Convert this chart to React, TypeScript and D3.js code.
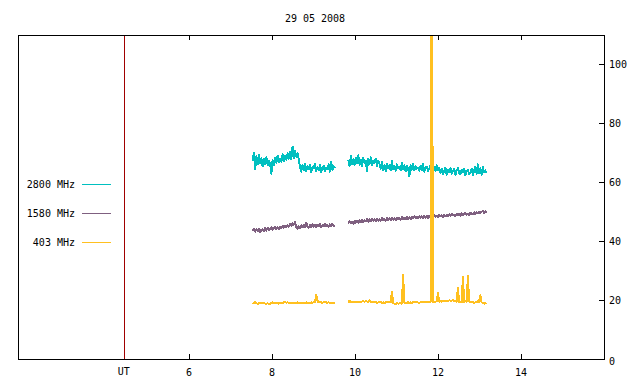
import React from "react";
import * as d3 from "d3";

const title = "29 05 2008";
const xTicks = [6, 8, 10, 12, 14];
const yTicks = [0, 20, 40, 60, 80, 100];
const markerTime = 4.43;
const markerLabel = "UT";
const legendLabels = ["2800 MHz", "1580 MHz", "403 MHz"];
const colors = ["#00c0c0", "#7f6080", "#ffc020"];

const seg1Start = 7.535;
const seg2Start = 9.84;
const step = 0.03;

const cyan1 = [
  67.2, 70.1, 64.3, 68.8, 66.1, 69.4,
  66.5, 68.2, 65.4, 67.9, 66.0, 68.6, 65.8, 67.3, 66.2, 62.8,
  67.5, 65.9, 68.4, 66.6, 69.0, 66.8, 68.1, 67.0, 69.5, 67.2, 68.9, 67.6, 69.8,
  68.0, 70.2, 67.9, 72.1, 68.3, 70.6, 68.7, 69.9, 67.8,
  65.3, 63.6, 65.9, 64.1, 66.2, 63.8, 65.5, 64.4, 66.0, 63.5, 65.1, 64.7, 66.3, 63.9, 65.2, 64.0, 65.8, 63.4, 64.9, 65.6, 63.7, 65.0, 64.5, 66.1, 63.6, 66.9, 64.2, 65.4, 64.8,
];
const cyan2 = [
  67.5, 65.6, 68.9, 66.2, 67.8, 65.9, 68.4, 66.5, 69.1, 66.0, 67.6, 65.4, 68.2, 66.7, 67.3, 63.9, 67.9, 66.1, 68.5, 65.8, 67.2, 66.4, 68.0, 65.5, 67.4, 66.3,
  64.6, 66.9, 64.2, 65.9, 63.8, 66.4, 64.9, 65.7, 64.0, 67.2, 64.5, 65.6, 63.9, 66.1, 64.8, 65.3, 64.1, 66.6, 64.4, 65.8, 63.7, 65.5, 64.7, 62.1, 65.9, 64.3, 66.2, 64.0, 65.4, 64.6, 65.0,
  63.9, 65.6, 64.2, 66.1, 63.6, 64.9, 65.3, 63.8, 64.7, 65.9, 63.5, 64.4, 65.2, 63.9, 65.7, 64.1, 64.8,
  63.2, 64.6, 62.8, 63.9, 65.0, 62.6, 64.2, 63.4, 64.8, 62.9, 63.7, 64.5, 62.5, 63.9, 64.9, 63.1, 62.7, 64.3, 63.5, 64.7, 62.4, 63.6, 64.1, 62.8, 63.3, 64.6, 62.5, 63.8, 65.3, 62.9, 66.1, 63.2, 64.8, 62.6, 65.2, 63.4, 64.0, 63.1,
];
const purple1 = [
  43.5, 44.2, 43.2, 44.0, 43.4, 44.3, 43.1, 43.9, 44.1, 43.3,
  44.4, 43.6, 44.6, 43.8, 44.3, 44.7, 43.8, 44.5, 44.9, 44.0,
  44.7, 44.2, 45.0, 44.4, 45.2, 44.6, 45.3, 44.7, 45.5, 44.9,
  45.7, 45.2, 46.2, 45.6, 46.6, 44.8, 44.3, 45.1, 44.5, 45.4,
  44.7, 45.6, 44.8, 46.3, 45.0, 44.6, 45.5, 44.8, 45.7, 44.9,
  45.4, 44.7, 45.6, 45.0, 45.8, 44.9, 45.5, 45.1, 45.9, 45.0,
  45.6, 44.9, 45.7, 45.2, 45.9, 45.1, 45.5,
];
const purple2 = [
  46.0, 46.8, 46.1, 46.7, 45.9, 46.9, 46.3, 47.0, 46.2, 47.1,
  46.5, 47.3, 46.4, 47.2, 46.7, 47.5, 46.6, 47.4, 46.8, 47.6,
  46.9, 47.4, 46.8, 47.7, 47.0, 47.5, 46.9, 47.8, 47.1, 47.6,
  47.0, 47.9, 47.2, 47.7, 47.1, 48.0, 47.3, 47.8, 47.2, 47.9,
  47.4, 48.0, 47.3, 48.2, 47.5, 48.0, 47.4, 48.3, 47.6, 48.1,
  47.5, 48.2, 47.7, 48.4, 47.8, 48.3, 47.7, 48.5, 47.9, 48.4,
  47.8, 48.6, 48.0, 48.5, 47.9, 48.7, 48.1, 48.6, 48.0, 48.8,
  48.2, 48.7, 48.3, 48.9, 48.4, 48.8, 48.3, 49.0, 48.5, 48.9,
  48.4, 49.1, 48.6, 49.2, 48.7, 49.0, 48.5, 49.3, 48.8, 49.2,
  48.7, 49.4, 48.9, 49.3, 49.6, 49.0, 49.4, 48.9, 49.7, 49.1,
  49.3, 49.8, 49.2, 49.9, 49.4, 50.1, 49.5, 50.0, 50.3, 49.6,
  50.2, 49.7,
];
const orange1 = [
  19.2, 18.9, 19.3, 19.0, 18.6, 19.1, 19.2, 18.9, 19.1, 19.0,
  18.8, 18.7, 18.9, 18.7, 18.8, 19.0, 19.2, 19.0, 19.1, 18.9,
  19.0, 18.8, 19.1, 19.0, 18.9, 19.2, 19.3, 19.1, 19.3, 19.0,
  18.9, 19.1, 19.0, 18.9, 19.1, 19.0, 19.2, 19.0, 18.9, 19.1,
  19.0, 19.1, 19.0, 19.2, 18.9, 19.0, 19.1, 19.2, 19.1, 19.3,
  19.2, 21.7, 19.8, 19.2, 19.3, 19.2, 19.1, 19.3, 19.2, 19.2,
  19.1, 19.3, 19.0, 18.9, 18.9, 18.9, 18.9,
];
const orange2 = [
  19.2, 19.8, 19.2, 19.3, 19.2, 19.3, 19.4, 19.3, 19.5, 19.4,
  19.3, 19.5, 19.6, 19.4, 19.6, 19.5, 19.4, 19.9, 19.5, 19.3,
  19.4, 19.2, 19.3, 19.1, 19.2, 19.2, 19.3, 19.1, 19.2, 19.1,
  19.2, 19.2, 19.3, 19.2, 19.2, 22.7, 18.9, 18.8, 18.6, 18.9,
  18.8, 18.9, 18.9, 18.8, 28.5, 19.0, 19.0, 19.1, 19.3, 18.9,
  19.2, 19.1, 19.3, 19.2, 19.2, 19.3, 19.2, 19.1, 19.2, 19.2,
  19.3, 19.2, 19.2, 19.3, 19.2, 19.2, 19.3, 150, 19.4, 19.5,
  19.4, 19.6, 22.3, 19.5, 19.6, 19.5, 19.7, 19.6, 19.8, 19.8,
  19.8, 19.9, 19.8, 19.8, 19.9, 19.8, 19.6, 19.4, 24.2, 19.3,
  19.4, 19.2, 27.9, 19.3, 19.6, 19.4, 28.2, 19.5, 19.4, 19.5,
  19.3, 19.1, 19.2, 19.4, 19.6, 19.4, 21.7, 19.3, 19.0, 18.8,
  18.9, 19.1,
];

const seriesSegments = [
  [cyan1, cyan2],
  [purple1, purple2],
  [orange1, orange2],
];

const W = 640;
const H = 384;
const L = 18;
const R = 604;
const T = 35;
const B = 359;
const FONT = "'DejaVu Sans Mono', monospace";

export default function App() {
  const x = d3.scaleLinear().domain([1.88, 16]).range([L, R]);
  const y = d3.scaleLinear().domain([0, 110]).range([B, T]);

  const toPts = (vals: number[], start: number) =>
    vals.map((v, i) => [start + i * step, v] as [number, number]);

  const line = d3
    .line<[number, number]>()
    .x((d) => x(d[0]))
    .y((d) => y(d[1]));

  const legendY = [184, 213, 242];

  return (
    <svg
      width={W}
      height={H}
      style={{ position: "fixed", left: 0, top: 0, background: "#fff" }}
    >
      <defs>
        <clipPath id="plotClip">
          <rect x={L} y={T} width={R - L} height={B - T} />
        </clipPath>
      </defs>
      <rect x={0} y={0} width={W} height={H} fill="#fff" />
      <text x={315} y={22} textAnchor="middle" fontFamily={FONT} fontSize={10} fill="#000">
        {title}
      </text>

      <line
        x1={Math.round(x(markerTime)) + 0.5}
        x2={Math.round(x(markerTime)) + 0.5}
        y1={T}
        y2={B}
        stroke="#a00000"
        strokeWidth={1}
        shapeRendering="crispEdges"
      />

      <g clipPath="url(#plotClip)">
        {seriesSegments.map((segs, si) =>
          segs.map((vals, k) => (
            <path
              key={si + "-" + k}
              d={line(toPts(vals, k === 0 ? seg1Start : seg2Start)) || ""}
              fill="none"
              stroke={colors[si]}
              strokeWidth={2}
              strokeLinejoin="round"
              shapeRendering="crispEdges"
            />
          ))
        )}
      </g>

      {xTicks.map((t) => {
        const xp = Math.round(x(t)) + 0.5;
        return (
          <g key={"xt" + t}>
            <line x1={xp} x2={xp} y1={B} y2={B - 5} stroke="#000" shapeRendering="crispEdges" />
            <line x1={xp} x2={xp} y1={T} y2={T + 5} stroke="#000" shapeRendering="crispEdges" />
            <text x={x(t)} y={376} textAnchor="middle" fontFamily={FONT} fontSize={10} fill="#000">
              {t}
            </text>
          </g>
        );
      })}
      <text x={x(markerTime)} y={375} textAnchor="middle" fontFamily={FONT} fontSize={10} fill="#000">
        {markerLabel}
      </text>
      {yTicks.map((t) => {
        const yp = Math.round(y(t)) + 0.5;
        return (
          <g key={"yt" + t}>
            {t > 0 && (
              <line x1={R} x2={R - 5} y1={yp} y2={yp} stroke="#000" shapeRendering="crispEdges" />
            )}
            <text x={609} y={y(t) + 4 + (t === 0 ? 2 : 0)} textAnchor="start" fontFamily={FONT} fontSize={10} fill="#000">
              {t}
            </text>
          </g>
        );
      })}

      <rect
        x={L + 0.5}
        y={T + 0.5}
        width={R - L}
        height={B - T}
        fill="none"
        stroke="#000"
        strokeWidth={1}
        shapeRendering="crispEdges"
      />

      {legendLabels.map((lab, i) => (
        <g key={lab}>
          <text x={75} y={legendY[i] + 4} textAnchor="end" fontFamily={FONT} fontSize={10} fill="#000">
            {lab}
          </text>
          <line
            x1={82}
            x2={111}
            y1={legendY[i] + 0.5}
            y2={legendY[i] + 0.5}
            stroke={colors[i]}
            strokeWidth={1}
            shapeRendering="crispEdges"
          />
        </g>
      ))}
    </svg>
  );
}
